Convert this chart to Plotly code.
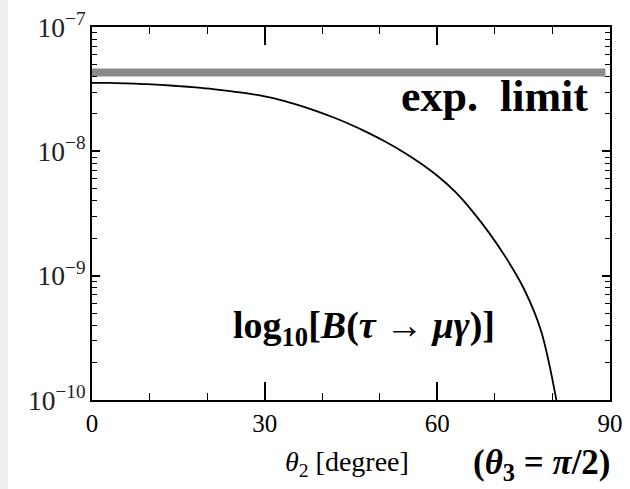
import plotly.graph_objects as go

# data
theta2 = [0, 3, 6, 9, 12, 15, 18, 21, 24, 27, 30, 33, 36, 39, 42, 45, 48, 51, 54, 57, 60,
          63, 66, 69, 72, 75, 78, 81]
branching = [3.556e-8, 3.548e-8, 3.516e-8, 3.475e-8, 3.420e-8, 3.350e-8, 3.266e-8, 3.170e-8,
             3.055e-8, 2.924e-8, 2.767e-8, 2.570e-8, 2.344e-8, 2.109e-8, 1.871e-8, 1.637e-8,
             1.409e-8, 1.194e-8, 9.93e-9, 8.07e-9, 6.37e-9, 4.78e-9, 3.34e-9, 2.21e-9,
             1.377e-9, 7.92e-10, 3.62e-10, 8.30e-11]
exp_theta = [0, 89.2]
exp_limit = [4.3e-8, 4.3e-8]
x_ticks = [0, 30, 60, 90]
x_minor = [10, 20, 40, 50, 70, 80]

FONT = "Liberation Serif"

fig = go.Figure()
fig.add_trace(go.Scatter(x=exp_theta, y=exp_limit, mode="lines",
                         line=dict(color="#8a8a8a", width=8), showlegend=False))
fig.add_trace(go.Scatter(x=theta2, y=branching, mode="lines", line_shape="spline",
                         line=dict(color="black", width=1.8, smoothing=1.0), showlegend=False))

fig.update_xaxes(range=[0, 90], tickvals=x_ticks, ticks="inside", ticklen=18, tickwidth=1.5,
                 tickcolor="black", showline=True, linecolor="black", linewidth=2,
                 mirror="allticks", showgrid=False, zeroline=False, automargin=False,
                 tickfont=dict(family=FONT, size=25, color="black"),
                 minor=dict(tickvals=x_minor, ticks="inside", ticklen=7, tickwidth=1.2,
                            tickcolor="black", showgrid=False))
fig.update_yaxes(type="log", range=[-10, -7], dtick=1, exponentformat="power",
                 ticks="inside", ticklen=8, tickwidth=1.5, tickcolor="black",
                 showline=True, linecolor="black", linewidth=2, mirror="allticks",
                 showgrid=False, zeroline=False, automargin=False,
                 tickfont=dict(family=FONT, size=22, color="#222"),
                 minor=dict(ticks="inside", ticklen=5, tickwidth=1.2, tickcolor="black",
                            showgrid=False))

fig.add_annotation(x=86.5, y=-7.556, xref="x", yref="y", text="<b>exp.  limit</b>",
                   showarrow=False, xanchor="right", yanchor="middle",
                   font=dict(family=FONT, size=44, color="black"))
fig.add_annotation(x=47.3, y=-9.42, xref="x", yref="y",
                   text="<b>log<sub>10</sub>[<i>B</i>(<i>τ</i> → <i>μγ</i>)]</b>",
                   showarrow=False, xanchor="center", yanchor="middle",
                   font=dict(family=FONT, size=38, color="black"))
fig.add_annotation(x=0.492, y=-0.169, xref="paper", yref="paper",
                   text="<i>θ</i><sub>2</sub> [degree]", showarrow=False,
                   xanchor="center", yanchor="middle",
                   font=dict(family=FONT, size=28, color="black"))
fig.add_annotation(x=0.869, y=-0.174, xref="paper", yref="paper",
                   text="<b>(<i>θ</i><sub>3</sub> = <i>π</i>/2)</b>", showarrow=False,
                   xanchor="center", yanchor="middle",
                   font=dict(family=FONT, size=35, color="black"))

fig.add_shape(type="rect", xref="paper", yref="paper", x0=-92/518, x1=-84/518,
              y0=-89/373, y1=1 + 27/373, fillcolor="#eeeeee", line_width=0, layer="below")

fig.update_layout(width=630, height=489, margin=dict(l=92, r=20, t=27, b=89),
                  paper_bgcolor="white", plot_bgcolor="white")

fig.write_html("out.html", config={"displayModeBar": False},
               post_script="document.body.style.margin='0px';document.body.style.overflow='hidden';")
